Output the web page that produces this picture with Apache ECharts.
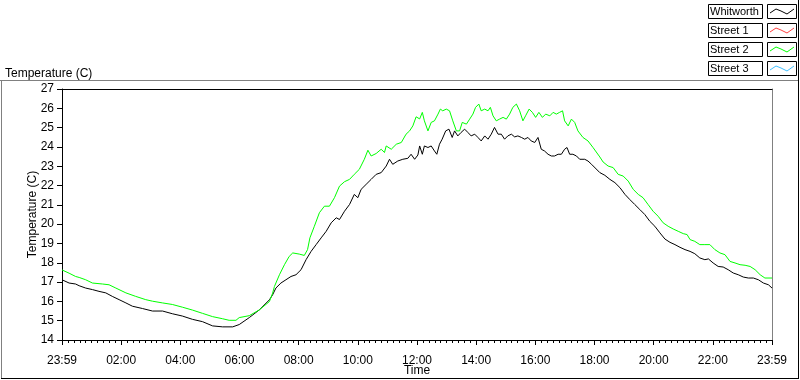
<!DOCTYPE html>
<html>
<head>
<meta charset="utf-8">
<script src="https://cdn.jsdelivr.net/npm/echarts@6/dist/echarts.min.js"></script>
<style>
html,body{margin:0;padding:0;background:#fff;}
#chart{width:800px;height:380px;}
</style>
</head>
<body>
<div id="chart"></div>
<script>
// ---- data (hours from 23:59, temperature in C) ----
const seriesNames = ['Whitworth', 'Street 1', 'Street 2', 'Street 3'];
const seriesColors = ['#000000', '#ff4040', '#00ff00', '#40c0ff'];
const xTickLabels = ['23:59','02:00','04:00','06:00','08:00','10:00','12:00','14:00','16:00','18:00','20:00','22:00','23:59'];
const yTicks = [14,15,16,17,18,19,20,21,22,23,24,25,26,27];

const whitworthTimes = [0.00,0.24,0.46,0.58,0.80,1.03,1.25,1.48,1.70,1.93,2.16,2.38,2.72,3.06,3.40,3.73,4.07,4.41,4.75,5.09,5.43,5.77,5.99,
6.33,6.67,7.01,7.12,7.23,7.40,7.57,7.74,7.91,8.08,8.25,8.42,8.59,8.76,8.93,9.10,9.27,9.38,9.55,9.72,9.88,10.00,10.11,10.28,10.45,10.62,10.79,10.96,11.07,11.18,11.35,11.52,11.69,11.80,11.92,12.03,
12.09,12.18,12.25,12.37,12.48,12.59,12.67,12.76,12.85,12.97,13.08,13.19,13.27,13.38,13.49,13.61,13.72,13.83,13.95,14.06,14.17,14.29,14.40,14.51,14.62,14.74,14.85,14.96,15.07,15.19,15.30,15.41,15.53,15.64,15.75,15.86,15.98,16.09,16.20,16.31,16.43,16.54,16.65,16.77,16.88,16.99,17.07,17.16,17.27,17.39,17.50,17.67,17.78,17.90,
18.18,18.35,18.52,18.69,18.86,19.03,19.19,19.36,19.53,19.70,19.87,20.04,20.21,20.38,20.55,20.72,20.89,21.06,21.23,21.39,21.56,21.73,21.85,22.01,22.18,22.35,22.52,22.69,22.86,23.03,23.20,23.37,23.54,23.71,23.88,24.00];
const whitworthTemps = [17.12,16.95,16.90,16.81,16.69,16.61,16.52,16.44,16.26,16.09,15.92,15.75,15.63,15.50,15.50,15.36,15.24,15.07,14.95,14.73,14.68,14.68,14.80,
15.16,15.56,16.08,16.34,16.69,16.95,17.12,17.29,17.38,17.64,18.16,18.59,18.94,19.29,19.63,20.07,20.33,20.24,20.67,21.02,21.54,21.37,21.80,22.06,22.32,22.58,22.67,23.01,23.36,23.10,23.27,23.36,23.41,23.62,23.36,23.58,
24.05,23.62,24.05,23.97,24.05,23.79,23.62,24.14,24.40,24.83,24.92,24.49,24.83,24.57,24.75,24.92,24.75,24.57,24.66,24.49,24.31,24.57,24.40,24.66,25.01,24.66,24.66,24.40,24.57,24.66,24.52,24.57,24.49,24.40,24.49,24.31,24.23,24.49,23.88,23.79,23.62,23.53,23.53,23.62,23.62,23.88,23.97,23.62,23.62,23.53,23.36,23.36,23.27,23.10,
22.67,22.53,22.32,22.15,21.89,21.54,21.28,21.02,20.76,20.50,20.15,19.89,19.55,19.23,19.06,18.94,18.80,18.68,18.59,18.47,18.25,18.16,18.20,17.99,17.81,17.78,17.64,17.47,17.38,17.26,17.21,17.21,17.12,16.95,16.86,16.69];

const street2Times = [0.00,0.24,0.46,0.58,0.80,1.03,1.37,1.59,1.82,2.16,2.49,2.83,3.06,3.40,3.73,4.07,4.41,4.75,5.09,5.43,5.65,5.88,5.99,
6.33,6.67,7.01,7.12,7.18,7.35,7.52,7.68,7.80,8.02,8.19,8.30,8.38,8.53,8.70,8.87,9.04,9.21,9.38,9.55,9.72,9.88,10.05,10.22,10.34,10.45,10.62,10.79,10.90,10.96,11.13,11.30,11.47,11.63,11.75,11.86,11.97,
12.09,12.18,12.25,12.37,12.48,12.59,12.71,12.79,12.87,12.99,13.10,13.21,13.33,13.44,13.53,13.67,13.78,13.89,13.98,14.09,14.17,14.29,14.40,14.48,14.57,14.68,14.79,14.91,15.02,15.13,15.24,15.36,15.47,15.58,15.67,15.79,15.90,16.01,16.12,16.24,16.35,16.49,16.60,16.71,16.82,16.92,16.99,17.11,17.22,17.33,17.44,17.61,17.78,17.95,
18.18,18.29,18.46,18.63,18.80,18.97,19.14,19.31,19.48,19.64,19.81,19.98,20.15,20.32,20.49,20.66,20.83,21.00,21.13,21.23,21.39,21.56,21.73,21.90,22.07,22.24,22.41,22.58,22.75,22.92,23.09,23.26,23.43,23.60,23.76,24.00];
const street2Temps = [17.63,17.46,17.29,17.24,17.12,16.95,16.90,16.86,16.69,16.44,16.26,16.09,16.01,15.92,15.84,15.70,15.55,15.38,15.21,15.10,15.02,15.02,15.16,
15.26,15.56,15.99,16.43,16.77,17.38,17.90,18.33,18.51,18.45,18.38,18.68,19.29,19.89,20.59,20.93,20.93,21.37,21.97,22.20,22.32,22.58,22.84,23.36,23.83,23.53,23.66,23.88,23.71,24.05,23.88,24.14,24.23,24.66,24.83,25.09,25.56,
25.45,25.79,25.35,24.83,25.27,25.35,25.70,25.96,25.87,25.96,25.87,25.35,24.83,24.83,25.27,25.18,25.44,25.70,26.05,26.22,25.87,25.96,25.87,26.05,25.61,25.35,25.44,25.53,25.44,25.70,26.05,26.22,25.87,25.35,25.61,25.96,25.79,25.53,25.79,25.53,25.70,25.61,25.79,25.70,25.79,25.87,25.35,25.09,25.44,25.27,24.83,24.49,24.31,23.97,
23.48,23.22,23.01,22.93,22.58,22.49,22.23,21.80,21.54,21.37,21.02,20.67,20.41,20.07,19.89,19.75,19.63,19.51,19.46,19.20,19.11,18.94,18.94,18.94,18.68,18.51,18.42,18.07,17.99,17.90,17.87,17.81,17.64,17.38,17.21,17.21];

const street1Times = [];
const street1Temps = [];
const street3Times = [];
const street3Temps = [];

// ---- build ----
function pairs(ts, vs){ return ts.map((t,i)=>[t, vs[i]]); }
const seriesData = [
  pairs(whitworthTimes, whitworthTemps),
  pairs(street1Times, street1Temps),
  pairs(street2Times, street2Temps),
  pairs(street3Times, street3Temps)
];

const FONT = 'Liberation Sans';
const chart = echarts.init(document.getElementById('chart'), null, {renderer:'canvas'});

const graphics = [];
// outer frame
graphics.push({type:'line', shape:{x1:0,y1:80.5,x2:798,y2:80.5}, style:{stroke:'#808080',lineWidth:1}, silent:true});
graphics.push({type:'line', shape:{x1:1.5,y1:80,x2:1.5,y2:378}, style:{stroke:'#808080',lineWidth:1}, silent:true});
graphics.push({type:'line', shape:{x1:1,y1:378.5,x2:799,y2:378.5}, style:{stroke:'#000',lineWidth:1}, silent:true});
graphics.push({type:'line', shape:{x1:798.5,y1:0,x2:798.5,y2:379}, style:{stroke:'#000',lineWidth:1}, silent:true});
// legend
seriesNames.forEach((name, i) => {
  const y0 = 4 + i * 19;
  graphics.push({type:'rect', shape:{x:708.5,y:y0+0.5,width:54,height:14}, style:{fill:'#fff',stroke:'#000',lineWidth:1}, silent:true});
  graphics.push({type:'text', x:710, y:y0+8, style:{text:name, font:'11px "'+FONT+'"', fill:'#000', textVerticalAlign:'middle', verticalAlign:'middle'}, silent:true});
  graphics.push({type:'rect', shape:{x:767.5,y:y0+0.5,width:29,height:14}, style:{fill:'#fff',stroke:'#000',lineWidth:1}, silent:true});
  graphics.push({type:'polyline', shape:{points:[[770,y0+9],[776,y0+5],[781,y0+7],[787,y0+10],[794,y0+5]]}, style:{stroke:seriesColors[i],lineWidth:1,fill:null}, silent:true});
});

const option = {
  animation: false,
  backgroundColor: '#ffffff',
  textStyle: {fontFamily: FONT},
  title: {
    text: 'Temperature (C)', left: 0, top: 63,
    textStyle: {fontSize: 12, fontWeight: 'normal', color: '#000', fontFamily: FONT}
  },
  grid: {left: 62, right: 28, top: 89, bottom: 40, containLabel: false, outerBoundsMode: 'none'},
  xAxis: [{
    type: 'value', min: 0, max: 24, interval: 2,
    name: 'Time', nameLocation: 'middle', nameGap: 25, nameMoveOverlap: false,
    nameTextStyle: {fontSize: 12, color: '#000', fontFamily: FONT},
    axisLine: {show: true, onZero: false, lineStyle: {color: '#000', width: 1}},
    axisTick: {show: true, length: 5, lineStyle: {color: '#000'}},
    minorTick: {show: true, splitNumber: 10, length: 3, lineStyle: {color: '#000'}},
    axisLabel: {fontSize: 12, color: '#000', margin: 15, fontFamily: FONT,
      formatter: v => xTickLabels[Math.round(v / 2)]},
    splitLine: {show: false}
  }, {
    type: 'value', min: 0, max: 24, position: 'top',
    axisLine: {show: true, onZero: false, lineStyle: {color: '#000', width: 1}},
    axisTick: {show: false}, axisLabel: {show: false}, splitLine: {show: false}
  }],
  yAxis: [{
    type: 'value', min: yTicks[0], max: yTicks[yTicks.length-1], interval: 1,
    name: 'Temperature (C)', nameLocation: 'middle', nameGap: 23, nameRotate: 90, nameMoveOverlap: false,
    nameTextStyle: {fontSize: 12, color: '#000', fontFamily: FONT},
    axisLine: {show: true, onZero: false, lineStyle: {color: '#000', width: 1}},
    axisTick: {show: true, length: 5, lineStyle: {color: '#000'}},
    axisLabel: {fontSize: 12, color: '#000', margin: 8, fontFamily: FONT},
    splitLine: {show: false}
  }, {
    type: 'value', min: yTicks[0], max: yTicks[yTicks.length-1], position: 'right',
    axisLine: {show: true, onZero: false, lineStyle: {color: '#808080', width: 1}},
    axisTick: {show: false}, axisLabel: {show: false}, splitLine: {show: false}
  }],
  series: seriesNames.map((name, i) => ({
    name: name, type: 'line', xAxisIndex: 0, yAxisIndex: 0,
    data: seriesData[i], showSymbol: false, symbol: 'none',
    lineStyle: {color: seriesColors[i], width: 1},
    itemStyle: {color: seriesColors[i]},
    z: 2 + i
  })),
  graphic: graphics
};
chart.setOption(option);
</script>
</body>
</html>
